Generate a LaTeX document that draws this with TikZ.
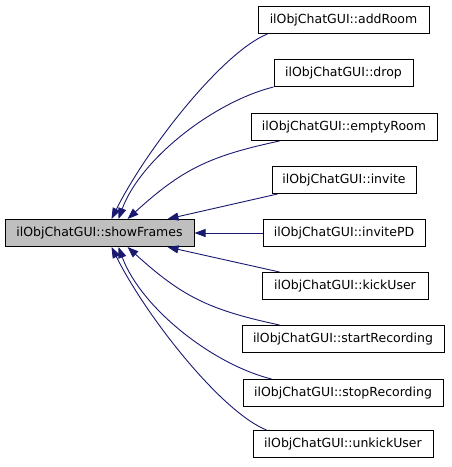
\documentclass[tikz,border=0pt]{standalone}
\usepackage{fontspec}
\setmainfont{DejaVu Sans}
\usetikzlibrary{arrows.meta,calc}
\definecolor{edgeblue}{HTML}{191970}
\definecolor{maingray}{HTML}{BFBFBF}
\begin{document}
\begin{tikzpicture}[x=1pt,y=-1pt,
  box/.style={draw=black,line width=1pt,fill=white,inner sep=0pt,minimum height=27pt,
    font=\fontsize{12.5}{13}\selectfont,anchor=center},
  mainbox/.style={box,fill=maingray},
  edge/.style={draw=edgeblue,line width=0.9pt,-{Triangle[length=11pt,width=8pt]}}]
\useasboundingbox (0,0) rectangle (451,467);
\node[mainbox,minimum width=189pt] (main) at (99.5,233) {ilObjChatGUI::showFrames};
\node[box,minimum width=171pt] (n1) at (343.5,20) {ilObjChatGUI::addRoom};
\node[box,minimum width=139pt] (n2) at (343.5,73) {ilObjChatGUI::drop};
\node[box,minimum width=186pt] (n3) at (344,127) {ilObjChatGUI::emptyRoom};
\node[box,minimum width=144pt] (n4) at (344,180) {ilObjChatGUI::invite};
\node[box,minimum width=162pt] (n5) at (344,233) {ilObjChatGUI::invitePD};
\node[box,minimum width=166pt] (n6) at (345,286) {ilObjChatGUI::kickUser};
\node[box,minimum width=202pt] (n7) at (343,339) {ilObjChatGUI::startRecording};
\node[box,minimum width=200pt] (n8) at (343,393) {ilObjChatGUI::stopRecording};
\node[box,minimum width=180pt] (n9) at (343,444) {ilObjChatGUI::unkickUser};
\coordinate (t1) at ($(main.north west)+(107,0)$);
\coordinate (t2) at ($(main.north west)+(114,0)$);
\coordinate (t3) at ($(main.north west)+(123,0)$);
\coordinate (t4) at ($(main.north west)+(163,0)$);
\coordinate (b1) at ($(main.south west)+(107,0)$);
\coordinate (b2) at ($(main.south west)+(114,0)$);
\coordinate (b3) at ($(main.south west)+(123,0)$);
\coordinate (b4) at ($(main.south west)+(163,0)$);
\draw[edge] ($(n1.south west)+(10,0)$) .. controls +(-45,18) and +(35,-70) .. (t1);
\draw[edge] ($(n2.south west)+(0,0)$) .. controls +(-60,15) and +(22,-60) .. (t2);
\draw[edge] ($(n3.south west)+(29,0)$) .. controls +(-70,15) and +(55,-50) .. (t3);
\draw[edge] ($(n4.south west)+(6,0)$) -- (t4);
\draw[edge] (n5.west) -- (main.east);
\draw[edge] ($(n6.north west)+(18,0)$) -- (b4);
\draw[edge] ($(n7.north west)+(38,0)$) .. controls +(-70,-15) and +(55,50) .. (b3);
\draw[edge] ($(n8.north west)+(29,0)$) .. controls +(-60,-15) and +(22,60) .. (b2);
\draw[edge] ($(n9.north west)+(14,0)$) .. controls +(-45,-18) and +(35,70) .. (b1);
\end{tikzpicture}
\end{document}
